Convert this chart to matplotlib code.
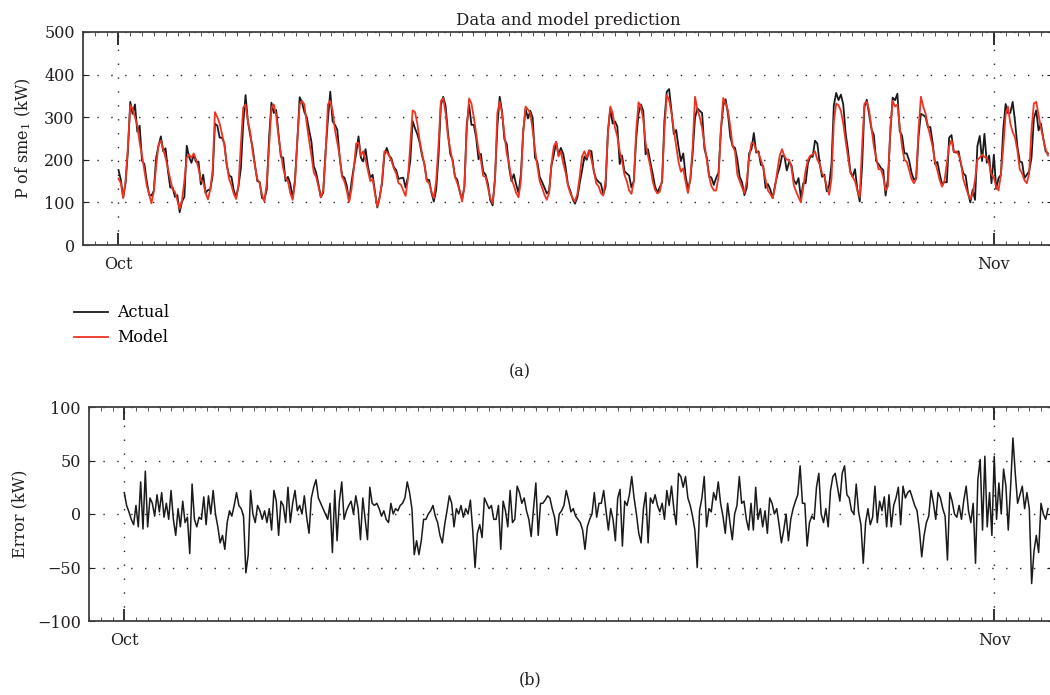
import numpy as np
import pandas as pd
import matplotlib
matplotlib.use("Agg")
import matplotlib.pyplot as plt
import matplotlib.dates as mdates

plt.rcParams['font.family'] = ['DejaVu Serif']
plt.rcParams['mathtext.fontset'] = 'dejavuserif'

# model prediction for sme1, kW, one sample every 2 h (one row = one day, from 1 Oct)
model = [
    156, 145, 110, 150, 230, 328, 320, 300, 280, 240, 210, 175,  # Oct 1
    140, 120, 98, 125, 185, 235, 245, 225, 205, 180, 155, 130,
    125, 105, 85, 105, 150, 205, 212, 205, 215, 200, 180, 152,
    148, 122, 107, 130, 175, 312, 300, 285, 260, 235, 190, 155,
    140, 120, 108, 140, 235, 322, 330, 290, 265, 220, 185, 155,
    145, 118, 102, 145, 230, 322, 330, 305, 255, 215, 180, 158,
    150, 122, 106, 145, 245, 330, 338, 330, 285, 245, 210, 170,
    160, 137, 112, 128, 210, 330, 338, 315, 270, 240, 210, 160,
    150, 128, 102, 130, 178, 238, 240, 210, 220, 200, 175, 150,
    155, 120, 90, 110, 150, 220, 218, 210, 198, 180, 168, 145,  # Oct 10
    142, 128, 115, 155, 235, 316, 312, 285, 245, 215, 190, 150,
    145, 125, 110, 150, 235, 338, 345, 310, 255, 225, 195, 160,
    145, 128, 102, 137, 270, 344, 332, 300, 262, 223, 199, 162,
    160, 135, 110, 98, 150, 310, 336, 310, 260, 215, 190, 155,
    140, 122, 112, 150, 265, 325, 318, 310, 270, 225, 185, 150,
    135, 118, 106, 122, 190, 232, 242, 208, 220, 192, 170, 140,
    122, 110, 102, 120, 160, 208, 220, 205, 222, 200, 175, 145,
    138, 122, 116, 152, 262, 325, 310, 275, 255, 220, 198, 165,
    150, 128, 120, 150, 268, 335, 325, 295, 240, 210, 185, 150,
    130, 121, 125, 152, 270, 352, 340, 310, 270, 232, 195, 172,  # Oct 20
    180, 148, 122, 155, 230, 348, 318, 300, 275, 238, 200, 160,
    138, 128, 128, 160, 270, 345, 332, 316, 278, 232, 220, 165,
    150, 135, 122, 150, 205, 240, 238, 222, 215, 200, 182, 152,
    128, 120, 110, 135, 175, 210, 225, 208, 200, 200, 182, 140,
    125, 112, 100, 135, 175, 200, 210, 212, 220, 200, 190, 168,
    160, 138, 118, 155, 290, 332, 328, 315, 285, 245, 208, 170,
    160, 150, 128, 112, 230, 332, 336, 316, 275, 232, 205, 178,
    178, 160, 128, 138, 275, 338, 325, 330, 278, 230, 200, 195,
    176, 155, 145, 155, 270, 348, 325, 308, 278, 255, 230, 195,
    175, 152, 137, 150, 190, 232, 246, 218, 220, 212, 195, 155,  # Oct 30
    137, 120, 108, 120, 152, 200, 205, 212, 207, 205, 190, 165,
    158, 137, 128, 165, 230, 305, 325, 285, 265, 252, 222, 178,  # Nov 1
    168, 152, 145, 168, 270, 332, 336, 305, 275, 250, 225, 210,
]

# error = actual - model, kW, same time steps
error = [
    20, 8, 2, -5, -10, 8, -12, 30, -14, 40, -12, 15,  # Oct 1
    10, -2, 18, 2, 20, -3, 10, -5, 22, -5, -20, 5,
    -12, 12, -8, -3, -37, 28, -5, -12, -3, -5, 16, -10,
    17, 0, 22, 0, -12, -27, -20, -33, -8, 3, -2, 8,
    20, 8, 5, -2, -55, -38, 22, 0, -8, 8, 3, -5,
    3, -8, 5, -15, 22, 12, -20, 12, 8, -8, 25, -8,
    10, 22, 3, 8, 0, 17, -3, -18, 15, 25, 32, 15,
    10, 5, 0, -5, 10, -36, 22, -25, 12, 30, -5, 3,
    8, 12, 0, 17, 5, -24, 15, -5, -24, 25, 10, 8,
    10, 5, -2, 3, -5, -8, 10, 0, 5, 3, 8, 10,  # Oct 10
    15, 30, 20, 5, -38, -25, -38, -25, -5, -5, 0, 3,
    8, -2, -8, -20, -27, -10, 3, 17, 10, -12, 5, 0,
    8, -3, 5, 0, 13, -15, -50, -18, -10, -22, 15, 10,
    5, 8, -5, -5, 8, -33, 12, 3, -12, 22, -8, -5,
    26, 20, 10, 15, 3, -5, -21, 5, 29, -20, 10, 10,
    13, 17, 15, 5, -3, -20, 0, 3, 8, 22, 13, 2,
    5, -2, -5, -8, -15, -33, -12, -5, 0, 20, -3, 10,
    10, 22, 3, -15, 5, -5, -25, 15, 23, -30, 12, 8,
    18, 35, 15, 0, -18, -27, 5, 20, -27, 15, 10, 18,
    8, 2, 10, -5, 22, 8, 26, 5, -10, 38, 35, 25,  # Oct 20
    35, 15, 8, -2, -15, -50, 3, 15, 35, -12, 5, 2,
    20, 13, 30, 10, -2, -18, 10, -8, -24, 0, 8, 35,
    10, 12, -5, -15, 10, -15, 25, -5, 5, -12, 3, -18,
    15, 10, 0, 5, -10, -27, -15, 0, -25, -5, 5, 12,
    18, 45, 10, 10, -30, -8, -2, -5, 25, 38, 0, -8,
    5, -12, 22, 35, 38, 25, 12, 38, 45, 18, 15, 3,
    0, 28, 2, -10, -46, -8, 5, -10, -3, 26, -8, 12,
    3, 16, -12, 18, -12, 8, 15, 25, -10, 26, 15, 20,
    22, 15, 8, 3, -15, -40, -20, -8, -2, 22, 10, -5,
    20, 15, 5, -2, -43, 20, 12, 0, -3, 8, -5, 13,  # Oct 30
    26, 3, -8, 10, -46, 32, 51, -15, 54, -12, 20, -20,
    54, -5, 29, 0, 42, 26, -15, 25, 71, 38, 10, 18,  # Nov 1
    26, 5, 20, 5, -65, -35, -20, -36, 10, 0, -5, 5,
]

actual = np.array(model) + np.array(error)
t = mdates.date2num(pd.date_range('2010-10-01', periods=len(model), freq='2h'))

oct1 = mdates.date2num(pd.Timestamp('2010-10-01'))
nov1 = mdates.date2num(pd.Timestamp('2010-11-01'))
px_day = 28.55  # pixels per day in the original figure

fig = plt.figure(figsize=(10.5, 6.95), dpi=100)
ax1 = fig.add_axes([83/1050, 450/695, (1053-83)/1050, 213/695])
ax2 = fig.add_axes([89/1050, 74/695, (1053-89)/1050, 214/695])

la, = ax1.plot(t, actual, color='#1a1a1a', lw=1.3)
lm, = ax1.plot(t, model, color='#ee3322', lw=1.3)
ax2.plot(t, error, color='#1a1a1a', lw=1.1)

ax1.set_xlim(oct1 + (83-112)/px_day, oct1 + (1053-112)/px_day)
ax2.set_xlim(oct1 + (89-117.3)/px_day, oct1 + (1053-117.3)/px_day)
ax1.set_ylim(0, 500)
ax2.set_ylim(-100, 100)
ax1.set_yticks([0, 100, 200, 300, 400, 500])
ax2.set_yticks([-100, -50, 0, 50, 100])
ax2.set_yticklabels(['\u2212100', '\u221250', '0', '50', '100'])

minor = oct1 + np.arange(-3, 80) * 31/74
for ax in (ax1, ax2):
    ax.set_xticks([oct1, nov1])
    ax.set_xticklabels(['Oct', 'Nov'])
    ax.set_xticks(minor, minor=True)
    ax.tick_params(axis='x', which='major', direction='in', length=9, width=1.3,
                   top=True, bottom=True, pad=8, labelsize=11.5, colors='#231f20')
    ax.tick_params(axis='x', which='minor', direction='in', length=3, width=0.7,
                   top=True, bottom=True, color='#555555')
    ax.tick_params(axis='y', direction='in', length=4, width=0.8, right=True,
                   labelsize=11.5, colors='#231f20', pad=6)
    ax.grid(True, which='major', linestyle=(0, (1, 9)), color='#222222', lw=1.0)
    for s in ax.spines.values():
        s.set_color('#404040')
        s.set_linewidth(1.3)

ax1.set_title('Data and model prediction', fontsize=12, pad=5, color='#231f20')
ax1.set_ylabel('P of sme$_1$ (kW)', fontsize=11.5, color='#231f20', labelpad=8)
ax2.set_ylabel('Error (kW)', fontsize=11.5, color='#231f20', labelpad=6)

fig.legend([la, lm], ['Actual', 'Model'], loc='upper left',
           bbox_to_anchor=(60/1050, 1-290/695), frameon=False, fontsize=11.5,
           handlelength=2.1, handletextpad=0.6, labelspacing=0.5)

fig.text(520/1050, 1-372/695, '(a)', ha='center', va='center', fontsize=11.5, color='#231f20')
fig.text(530/1050, 1-680/695, '(b)', ha='center', va='center', fontsize=11.5, color='#231f20')

fig.savefig('out.png', dpi=100)
